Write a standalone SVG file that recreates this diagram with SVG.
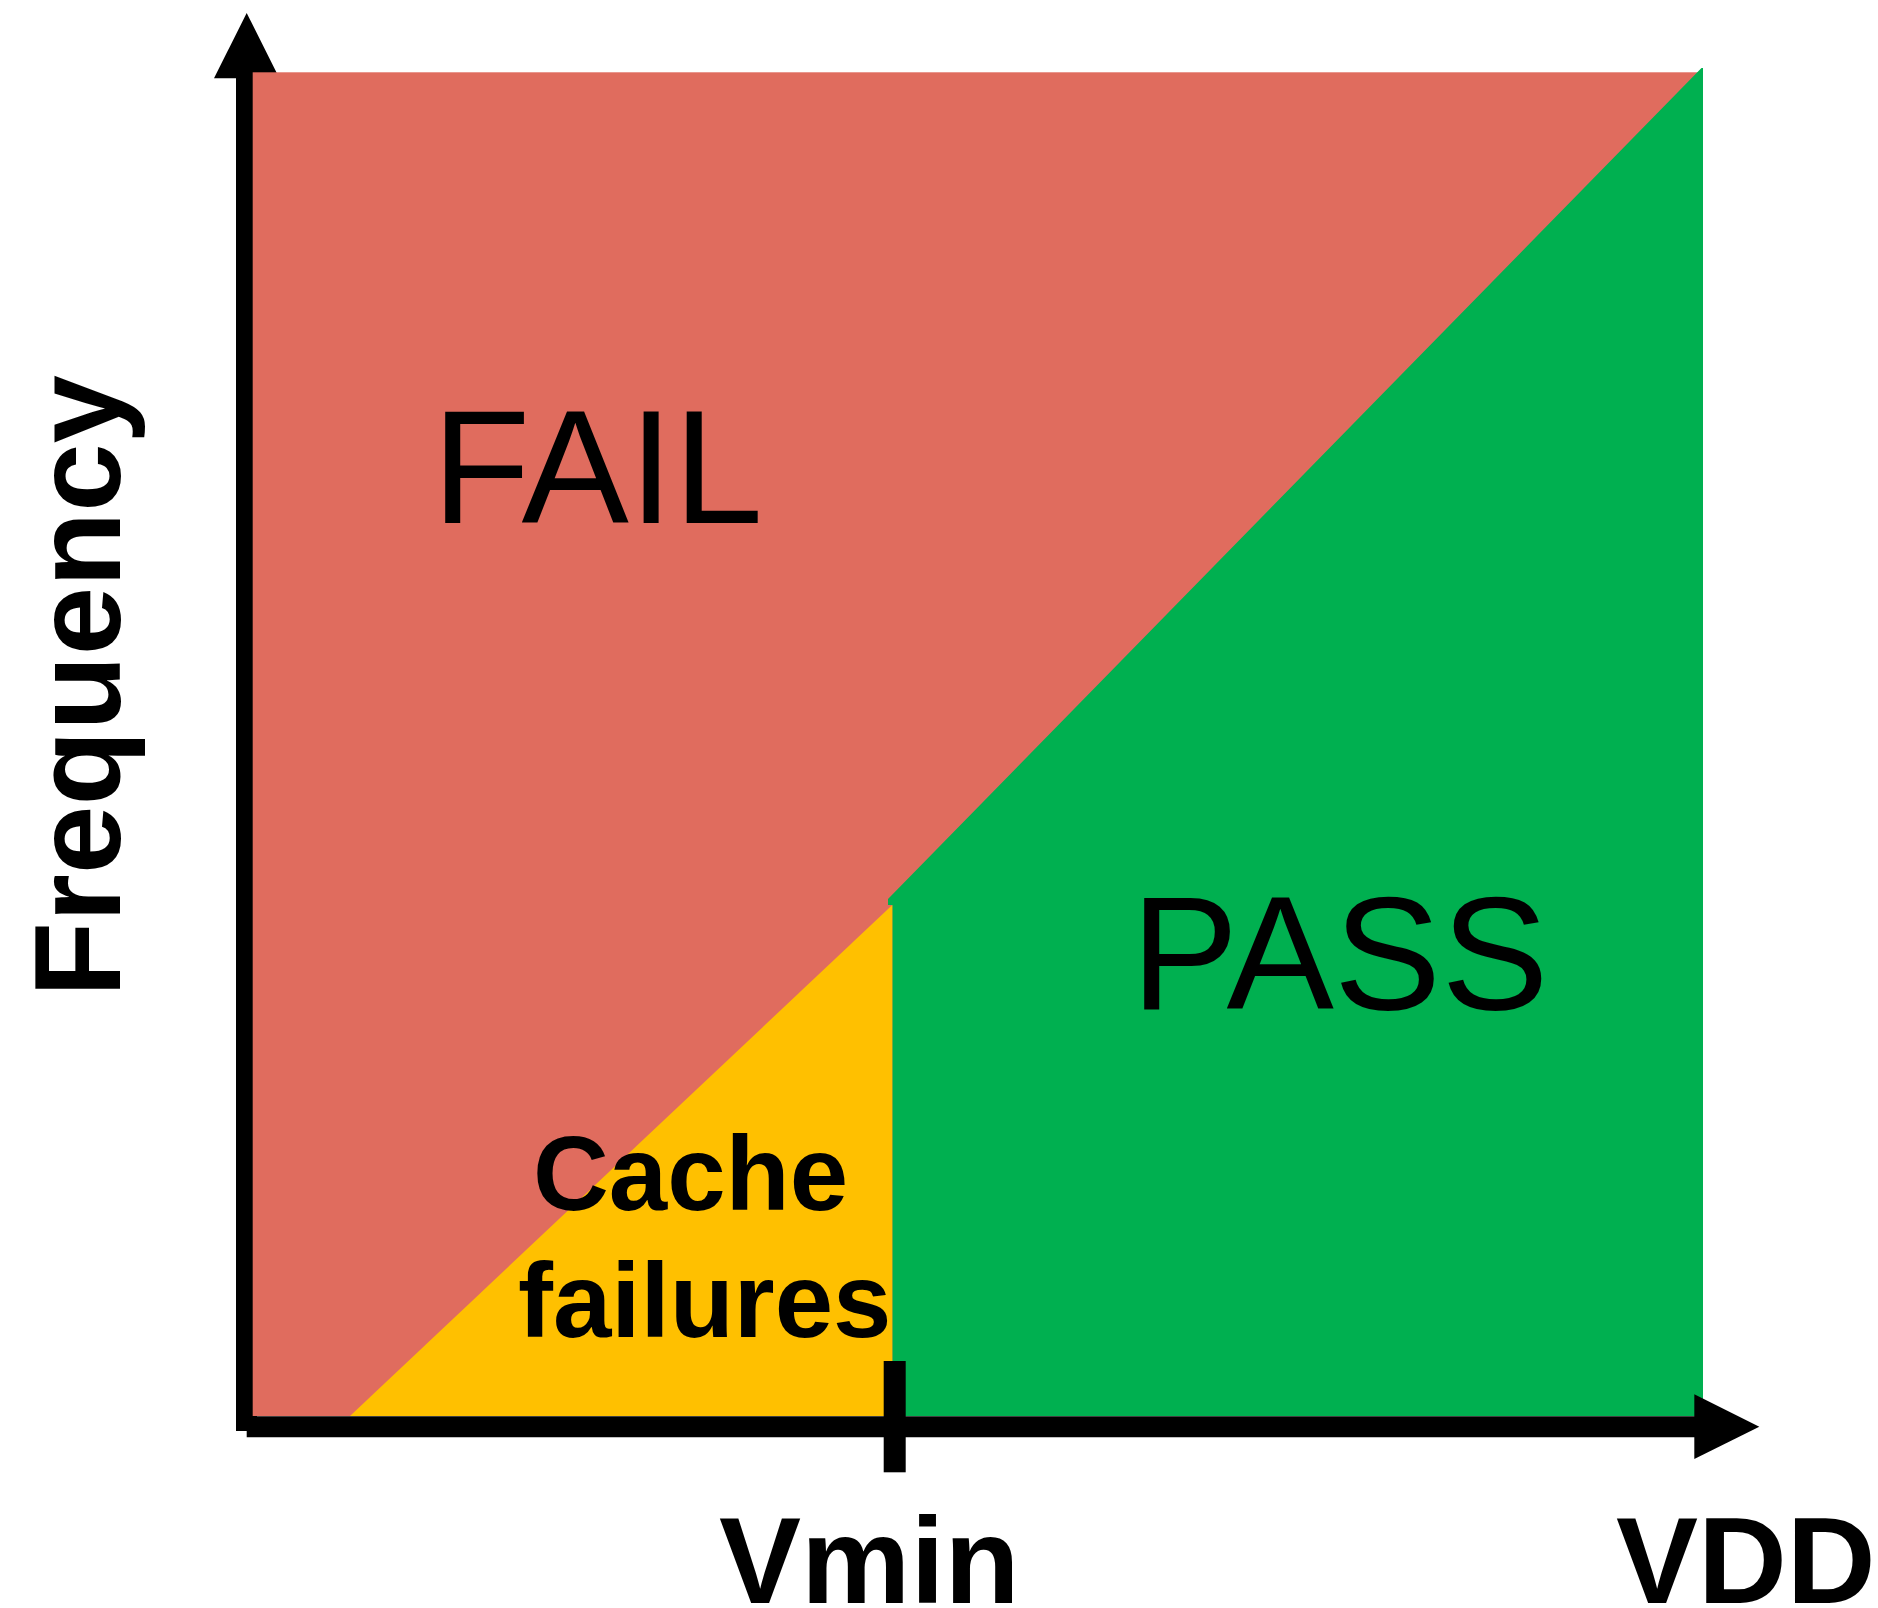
<svg xmlns="http://www.w3.org/2000/svg" width="1878" height="1608" viewBox="0 0 1878 1608">
  <style>
    .axis { stroke: #000; stroke-width: 21; fill: none; }
    .ink { fill: #000; }
    .big { font-family: "Liberation Sans", Arial, sans-serif; font-size: 161px; fill: #000; }
    .bold { font-family: "Liberation Sans", Arial, sans-serif; font-weight: bold; fill: #000; }
  </style>
  <rect width="1878" height="1608" fill="#fff"/>

  <!-- frequency axis (drawn beneath the regions) -->
  <g id="y-axis">
    <line class="axis" x1="246.5" y1="72" x2="246.5" y2="1431"/>
    <polygon class="ink" points="246.7,13 214,78.3 279.4,78.3"/>
  </g>

  <!-- operating regions -->
  <g id="fail-region">
    <rect x="252.7" y="72.3" width="1450" height="1343.7" fill="#E06C5E"/>
  </g>
  <g id="pass-region">
    <polygon fill="#00B050" points="1701.5,68 1703,68 1703,1416 892.3,1416 892.3,905 888,905 888,899"/>
  </g>
  <g id="cache-region">
    <polygon fill="#FFC000" points="892.3,905 892.3,1416 350,1416"/>
  </g>

  <!-- voltage axis with Vmin tick -->
  <g id="x-axis">
    <line class="axis" x1="246.7" y1="1426.7" x2="1700" y2="1426.7"/>
    <polygon class="ink" points="1759.3,1426.7 1694.3,1394.3 1694.3,1459"/>
    <rect class="ink" x="883.7" y="1361" width="22" height="111.3"/>
  </g>

  <!-- labels -->
  <g id="labels">
    <text class="big" x="432" y="522.5">FAIL</text>
    <text class="big" x="1131" y="1008.5">PASS</text>
    <text class="bold" font-size="105" x="533" y="1210">Cache</text>
    <text class="bold" font-size="105" x="518" y="1336.5">failures</text>
    <text class="bold" font-size="123" text-anchor="middle" transform="translate(120,686) rotate(-90)">Frequency</text>
    <text class="bold" font-size="123" x="719" y="1603">Vmin</text>
    <text class="bold" font-size="123" x="1616" y="1603">VDD</text>
  </g>
</svg>
